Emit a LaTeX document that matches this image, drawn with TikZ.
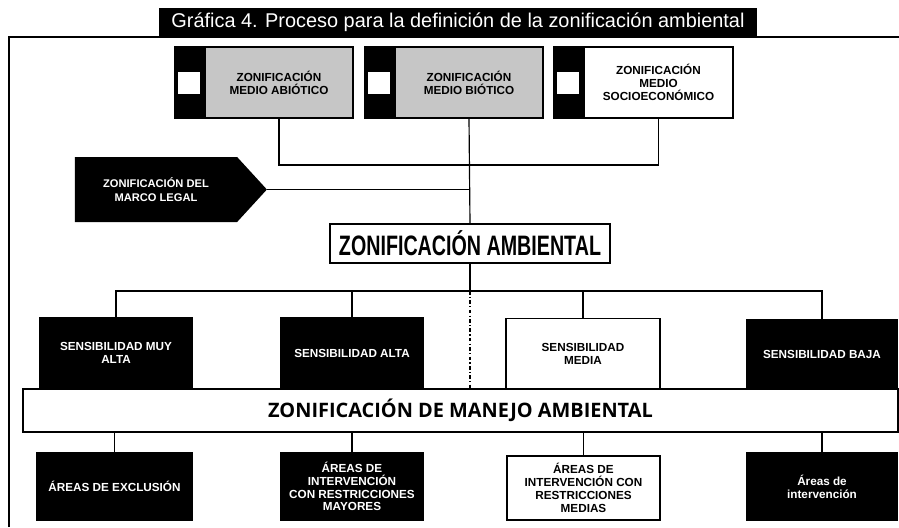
\documentclass[tikz,border=0pt]{standalone}
\usepackage{fontspec}
\setmainfont{Liberation Sans}
\newfontfamily\zmafont{Open Sans}
\usetikzlibrary{positioning,shapes.symbols}

\begin{document}
\begin{tikzpicture}[x=0.03cm, y=-0.03cm,
  box/.style={draw, line width=1.1pt, align=center, inner sep=1pt,
    font=\bfseries\fontsize{10}{11}\selectfont},
  darkbox/.style={box, fill=black, text=white},
  strip/.style={draw, fill=black, line width=1.1pt, minimum width=0.87cm,
    minimum height=2.13cm, inner sep=0pt},
  link/.style={line width=1pt}]
  \useasboundingbox (0,0) rectangle (899,527);

  \node[fill=black, text=white, minimum width=17.94cm, minimum height=0.87cm,
    font=\fontsize{17}{19}\selectfont] (title) at (458,22.5)
    {Gráfica 4. Proceso para la definición de la zonificación ambiental};
  \draw[line width=1.3pt] (9,527) -- (9,37) -- (899,37);

  \node[box, fill=gray!45, minimum width=4.44cm, minimum height=2.13cm] (b1) at (279,82.5)
    {ZONIFICACIÓN\\MEDIO ABIÓTICO};
  \node[box, fill=gray!45, minimum width=4.44cm, minimum height=2.13cm] (b2) at (469,82.5)
    {ZONIFICACIÓN\\MEDIO BIÓTICO};
  \node[box, minimum width=4.47cm, minimum height=2.13cm] (b3) at (658.5,82.5)
    {ZONIFICACIÓN\\MEDIO\\SOCIOECONÓMICO};
  \foreach \n in {b1,b2,b3} {
    \node[strip, left=0pt of \n] (st-\n) {};
    \node[fill=white, minimum size=0.66cm, inner sep=0pt] (sq-\n) at (st-\n) {};
  }

  \coordinate (hub) at (469,165);
  \draw[link] (b1.south) |- (hub) -| (b3.south);

  \node[signal, signal to=east, signal pointer angle=95, fill=black, text=white,
    minimum width=5.76cm, minimum height=1.95cm, align=center, inner sep=1pt,
    font=\bfseries\fontsize{9.5}{11.5}\selectfont] (legal) at (156,189.5)
    {ZONIFICACIÓN DEL\\MARCO LEGAL};

  \node[box, minimum width=8.4cm, minimum height=1.17cm,
    font=\bfseries\fontsize{24}{26}\selectfont] (za) at (470,243.5)
    {\scalebox{0.7}[1]{ZONIFICACIÓN AMBIENTAL}};
  \draw[link] (b2.south) -- (za.north);
  \draw[link] (legal.east) -- (legal.east -| za.north);

  \node[darkbox, minimum width=4.56cm, minimum height=2.1cm] (s1) at (116,353)
    {SENSIBILIDAD MUY\\ALTA};
  \node[darkbox, minimum width=4.26cm, minimum height=2.1cm] (s2) at (352,353)
    {SENSIBILIDAD ALTA};
  \node[box, minimum width=4.62cm, minimum height=2.1cm] (s3) at (583,353.5)
    {SENSIBILIDAD\\MEDIA};
  \node[darkbox, minimum width=4.5cm, minimum height=2.04cm] (s4) at (822,354)
    {SENSIBILIDAD BAJA};

  \coordinate (sbus) at (470,291);
  \draw[link] (za.south) -- (sbus);
  \draw[link] (s1.north) |- (sbus) -| (s4.north);
  \foreach \n in {s2,s3}
    \draw[link] (\n.north) -- (\n.north |- sbus);

  \node[box, minimum width=26.25cm, minimum height=1.29cm,
    font=\zmafont\bfseries\fontsize{17}{19}\selectfont] (zma) at (460.5,410.5)
    {ZONIFICACIÓN DE MANEJO AMBIENTAL};
  \draw[link, dash dot] (sbus) -- (sbus |- zma.north);

  \node[darkbox, minimum width=4.65cm, minimum height=2.01cm] (a1) at (114.5,486.5)
    {ÁREAS DE EXCLUSIÓN};
  \node[darkbox, minimum width=4.26cm, minimum height=2.01cm] (a2) at (352,486.5)
    {ÁREAS DE\\INTERVENCIÓN\\CON RESTRICCIONES\\MAYORES};
  \node[box, minimum width=4.59cm, minimum height=1.92cm] (a3) at (583.5,488)
    {ÁREAS DE\\INTERVENCIÓN CON\\RESTRICCIONES\\MEDIAS};
  \node[darkbox, minimum width=4.5cm, minimum height=2.01cm] (a4) at (822,486.5)
    {Áreas de\\intervención};
  \foreach \n in {a1,a2,a3,a4}
    \draw[link] (\n.north) -- (\n.north |- zma.south);
\end{tikzpicture}
\end{document}
